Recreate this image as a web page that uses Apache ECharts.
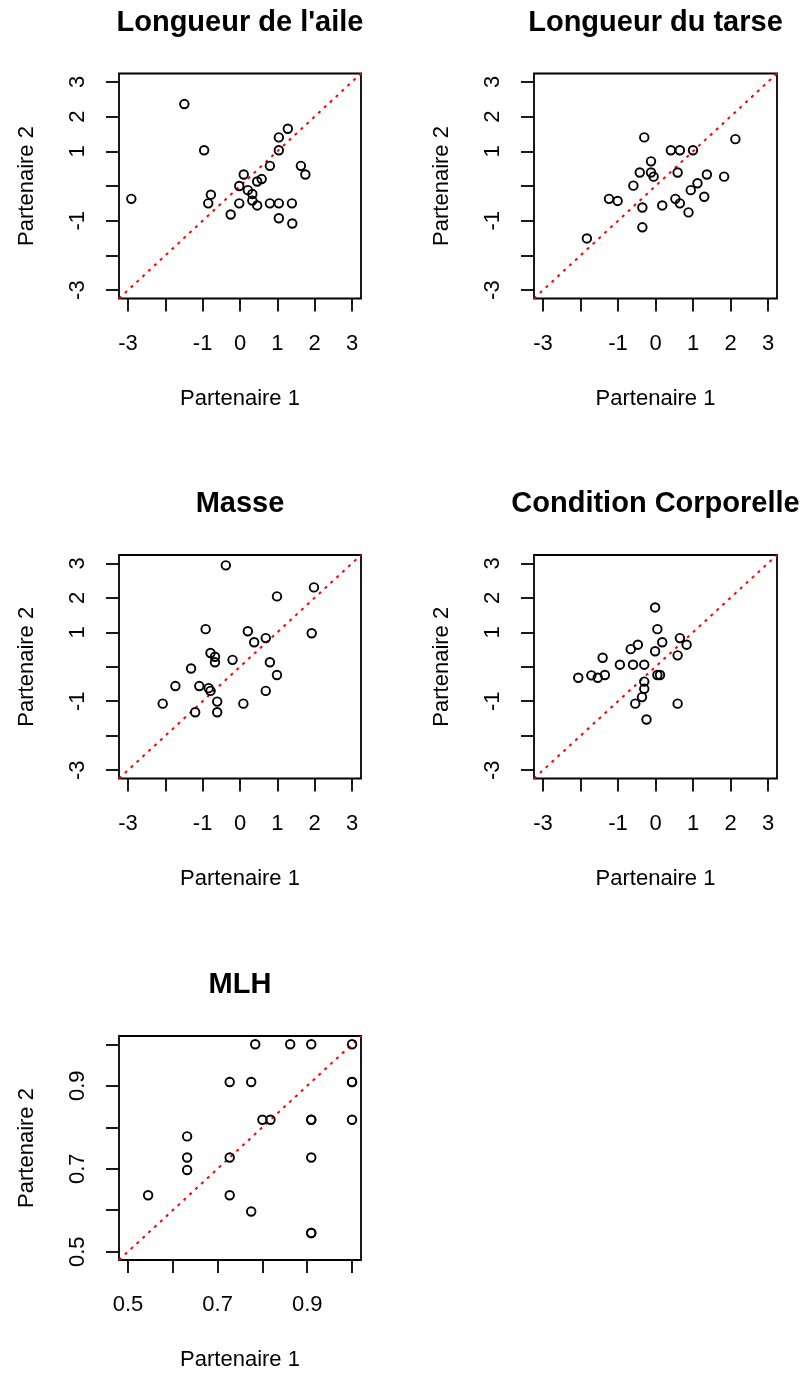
<!DOCTYPE html>
<html>
<head>
<meta charset="utf-8">
<script src="https://cdn.jsdelivr.net/npm/echarts@6/dist/echarts.min.js"></script>
<style>
html,body{margin:0;padding:0;background:#fff;}
#chart{width:803px;height:1374px;}
</style>
</head>
<body>
<div id="chart"></div>
<script>
// ---------- DATA ----------
const panelTitles = ["Longueur de l'aile", "Longueur du tarse", "Masse", "Condition Corporelle", "MLH"];
const xName = "Partenaire 1";
const yName = "Partenaire 2";

// Longueur de l'aile
const aileP1 = [-2.91,-1.49,-0.96,-0.78,-0.85,-0.25,-0.02,-0.02,0.10,0.21,0.33,0.33,0.46,0.46,0.58,0.80,0.80,1.04,1.04,1.04,1.04,1.28,1.39,1.40,1.63,1.75];
const aileP2 = [-0.37,2.36,1.03,-0.25,-0.50,-0.82,0.00,-0.50,0.33,-0.12,-0.23,-0.42,0.13,-0.56,0.20,0.58,-0.50,1.40,1.03,-0.50,-0.93,1.65,-0.50,-1.08,0.58,0.33];

// Longueur du tarse
const tarseP1 = [-1.83,-1.24,-1.01,-0.59,-0.42,-0.35,-0.35,-0.30,-0.12,-0.12,-0.05,0.18,0.41,0.53,0.59,0.65,0.65,0.88,0.94,1.00,1.12,1.30,1.37,1.83,2.13];
const tarseP2 = [-1.51,-0.37,-0.43,0.01,0.39,-0.62,-1.19,1.40,0.71,0.39,0.27,-0.56,1.03,-0.37,0.39,-0.50,1.03,-0.76,-0.12,1.03,0.08,-0.31,0.33,0.27,1.35];

// Masse
const masseP1 = [-0.38,-0.92,-0.79,-0.67,-0.67,-1.31,-1.73,-1.09,-0.84,-0.79,-0.61,-0.61,-1.20,-2.07,-0.20,0.09,0.21,0.38,0.69,0.80,0.99,0.69,0.99,1.98,1.92];
const masseP2 = [2.94,1.09,0.40,0.29,0.13,-0.05,-0.56,-0.56,-0.62,-0.70,-1.01,-1.32,-1.32,-1.07,0.20,-1.07,1.03,0.71,0.83,0.13,-0.24,-0.70,2.04,2.30,0.97];

// Condition Corporelle
const condP1 = [-2.06,-1.71,-1.54,-1.35,-1.41,-0.95,-0.66,-0.47,-0.60,-0.30,-0.30,-0.30,-0.36,-0.54,-0.24,-0.01,0.05,0.18,-0.01,0.05,0.12,0.59,0.65,0.83,0.59];
const condP2 = [-0.32,-0.25,-0.32,-0.24,0.26,0.06,0.51,0.64,0.06,0.06,-0.43,-0.64,-0.88,-1.07,-1.53,1.72,1.09,0.71,0.45,-0.24,-0.24,0.33,0.83,0.64,-1.07];

// MLH
const mlhP1 = [0.545,0.632,0.632,0.632,0.727,0.727,0.727,0.775,0.775,0.784,0.800,0.818,0.862,0.909,0.909,0.909,0.909,0.909,0.909,1.000,1.000,1.000,1.000];
const mlhP2 = [0.636,0.778,0.727,0.697,0.909,0.727,0.636,0.909,0.597,1.000,0.818,0.818,1.000,1.000,0.818,0.818,0.727,0.545,0.545,1.000,0.909,0.909,0.818];

// Axis ticks / labels
const stdLimits = [-3.24, 3.24];
const stdTicks = [-3,-2,-1,0,1,2,3];
const stdXLabels = [-3,-1,0,1,2,3];
const stdYLabels = [-3,-1,1,2,3];
const mlhLimits = [0.48, 1.02];
const mlhTicks = [0.5,0.6,0.7,0.8,0.9,1.0];
const mlhLabels = [0.5,0.7,0.9];

// ---------- LAYOUT ----------
const FONT = "'Liberation Sans', Arial, Helvetica, sans-serif";
const boxes = [
  {left:119, top:73.5, width:242, height:225},
  {left:534, top:73.5, width:243, height:225},
  {left:119, top:555, width:242, height:223.5},
  {left:534, top:555, width:243, height:223.5},
  {left:119, top:1036, width:242, height:224}
];
const titleY = [22.5, 22.5, 503.5, 503.5, 984.5];

const panels = [
  {x: aileP1, y: aileP2, lim: stdLimits, ticks: stdTicks, xl: stdXLabels, yl: stdYLabels},
  {x: tarseP1, y: tarseP2, lim: stdLimits, ticks: stdTicks, xl: stdXLabels, yl: stdYLabels},
  {x: masseP1, y: masseP2, lim: stdLimits, ticks: stdTicks, xl: stdXLabels, yl: stdYLabels},
  {x: condP1, y: condP2, lim: stdLimits, ticks: stdTicks, xl: stdXLabels, yl: stdYLabels},
  {x: mlhP1, y: mlhP2, lim: mlhLimits, ticks: mlhTicks, xl: mlhLabels, yl: mlhLabels}
];

const grid = [], xAxis = [], yAxis = [], series = [], graphic = [];
const tickStyle = {color:'#000', width:1.8};
const labelStyle = {fontSize:22, color:'#000', fontFamily:FONT};

panels.forEach((p, i) => {
  const b = boxes[i];
  grid.push({left:b.left, top:b.top, width:b.width, height:b.height, show:true,
    borderColor:'#000', borderWidth:1.8, backgroundColor:'transparent', containLabel:false});
  xAxis.push({type:'value', gridIndex:i, min:p.lim[0], max:p.lim[1], position:'bottom',
    axisLine:{show:false, onZero:false}, splitLine:{show:false},
    axisTick:{show:true, length:13, customValues:p.ticks, lineStyle:tickStyle},
    axisLabel:Object.assign({customValues:p.xl, margin:34}, labelStyle),
    name:xName, nameLocation:'middle', nameGap:89,
    nameTextStyle:{fontSize:22, color:'#000', fontFamily:FONT}});
  yAxis.push({type:'value', gridIndex:i, min:p.lim[0], max:p.lim[1], position:'left',
    axisLine:{show:false, onZero:false}, splitLine:{show:false},
    axisTick:{show:true, length:13, customValues:p.ticks, lineStyle:tickStyle},
    axisLabel:Object.assign({customValues:p.yl, margin:30, rotate:90}, labelStyle),
    name:yName, nameLocation:'middle', nameGap:81,
    nameTextStyle:{fontSize:22, color:'#000', fontFamily:FONT}});
  series.push({type:'line', xAxisIndex:i, yAxisIndex:i, silent:true, symbol:'none',
    data:[[p.lim[0], p.lim[0]], [p.lim[1], p.lim[1]]], clip:true, z:1,
    lineStyle:{color:'#ff0000', width:2, type:[3,5]}});
  series.push({type:'scatter', xAxisIndex:i, yAxisIndex:i, silent:true, z:2,
    symbol:'circle', symbolSize:8.5,
    data:p.x.map((v, k) => [v, p.y[k]]),
    itemStyle:{color:'rgba(0,0,0,0)', borderColor:'#000', borderWidth:1.9, opacity:1}});
  graphic.push({type:'text', x:b.left + b.width/2, y:titleY[i], silent:true,
    style:{text:panelTitles[i], fill:'#000', font:'bold 29px ' + FONT,
      textAlign:'center', textVerticalAlign:'middle'}});
});

const chart = echarts.init(document.getElementById('chart'), null, {renderer:'canvas'});
chart.setOption({
  animation:false,
  backgroundColor:'#fff',
  grid, xAxis, yAxis, series, graphic
});
</script>
</body>
</html>
